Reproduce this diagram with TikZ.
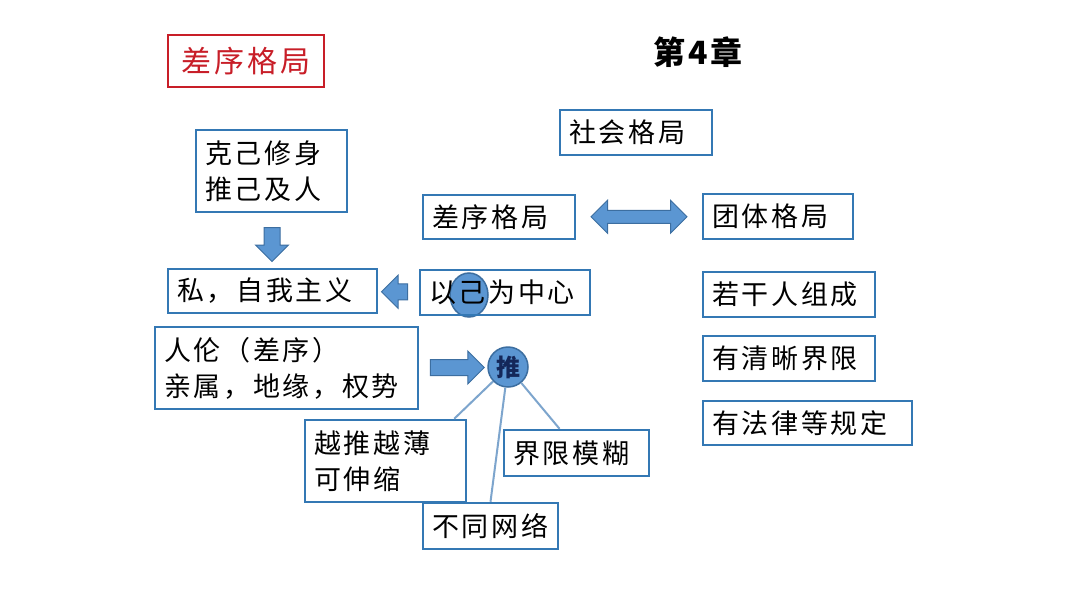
\documentclass[tikz,border=0pt]{standalone}
\usepackage{fontspec}
\newfontfamily\cjk[LetterSpace=10]{Noto Sans CJK SC}
\usetikzlibrary{shapes.arrows,shapes.geometric,calc}
\definecolor{boxblue}{RGB}{52,120,180}
\definecolor{arrowfill}{RGB}{91,150,210}
\definecolor{arrowedge}{RGB}{60,110,160}
\definecolor{spokeblue}{RGB}{125,165,205}
\definecolor{titlered}{RGB}{200,30,40}
\tikzset{
    box/.style={draw=boxblue, line width=2.5pt, fill=white, inner xsep=9pt, inner ysep=3pt, align=left, font=\cjk\fontsize{27}{36}\selectfont}, % 蓝色方框
    titlebox/.style={draw=titlered, line width=2pt, text=titlered, minimum width=156pt, minimum height=52pt, font=\cjk\fontsize{30}{34}\selectfont},
    blockarrow/.style={single arrow, draw=arrowedge, fill=arrowfill, line width=1pt, inner sep=7.5pt, single arrow head extend=8.5pt, minimum width=32pt}, % 块状箭头
    spoke/.style={draw=spokeblue, line width=2pt},
    bubble/.style={circle, draw=arrowedge, fill=arrowfill, line width=1.5pt, minimum size=40pt, inner sep=0pt}
}
\begin{document}
\begin{tikzpicture}[x=1pt, y=-1pt]
    \useasboundingbox[fill=white] (0,0) rectangle (1080,608);

    \node[titlebox] (title) at (246,61) {差序格局};
    \node[font=\cjk\bfseries\fontsize{32}{36}\selectfont] (chapter) at (698,52) {第4章};

    % 右侧
    \node[box, text width=134pt, minimum height=45pt] (shehui) at (636,132.5) {社会格局};
    \node[box, text width=132pt, minimum height=45pt] (tuanti) at (778,216.5) {团体格局};
    \node[box, text width=154pt, minimum height=45pt] (ruogan) at (789,294.5) {若干人组成};
    \node[box, text width=154pt, minimum height=45pt] (qingxi) at (789,358.5) {有清晰界限};
    \node[box, text width=191pt, minimum height=44pt] (falv) at (807.5,423) {有法律等规定};

    % 左侧
    \node[box, text width=134pt, minimum height=44pt] (chaxu) at (499,217) {差序格局};
    \node[box, text width=133pt, minimum height=82pt] (keji) at (271.5,171) {克己修身\\推己及人};
    \node[box, text width=191pt, minimum height=44pt] (si) at (272.5,291) {私，自我主义};
    \node[bubble, ellipse, minimum width=38pt, minimum height=44pt] (ji) at (469,295) {};
    \node[box, fill=none, text width=152pt, minimum height=45pt] (yiji) at (505,292.5) {以己为中心};
    \node[bubble, font=\cjk\bfseries\fontsize{24}{26}\selectfont, text={rgb,255:red,20;green,40;blue,90}] (tui) at (508,367) {推};
    \node[box, text width=245pt, minimum height=82pt] (renlun) at (286.5,368) {人伦（差序）\\亲属，地缘，权势};
    \node[box, text width=143pt, minimum height=82pt] (yue) at (385.5,461) {越推越薄\\可伸缩};
    \node[box, text width=127pt, minimum height=46pt] (jie) at (576.5,453) {界限模糊};
    \node[box, text width=117pt, minimum height=46pt] (wang) at (490.5,526) {不同网络};

    % 箭头
    \node[blockarrow, minimum height=34pt, shape border rotate=270] (down) at ($(keji.south)!0.5!(si.north)$) {};
    \node[blockarrow, minimum height=26pt, shape border rotate=180] (left) at ($(si.east)!0.5!(yiji.west)$) {};
    \node[blockarrow, minimum height=54pt] (right) at ($(renlun.east)!0.5!(tui.west)$) {};
    \node[double arrow, draw=arrowedge, fill=arrowfill, line width=1pt, inner sep=6pt, double arrow head extend=10pt, minimum width=32pt, minimum height=96pt] (both) at ($(chaxu.east)!0.5!(tuanti.west)$) {};

    % 推 的连线
    \draw[spoke] (tui) -- ([xshift=-13pt]yue.north east);
    \draw[spoke] (tui) -- (wang.north);
    \draw[spoke] (tui) -- ([xshift=-17pt]jie.north);
\end{tikzpicture}
\end{document}
